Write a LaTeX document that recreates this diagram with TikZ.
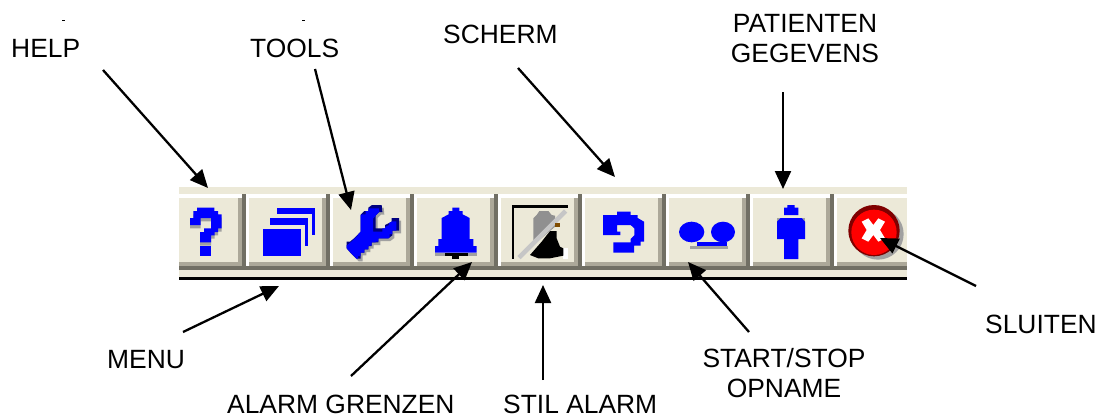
\documentclass[tikz,border=0pt]{standalone}
\usepackage{fontspec}
\setmainfont{Liberation Sans}
\usetikzlibrary{arrows.meta}
\definecolor{btnface}{RGB}{236,233,216}
\definecolor{btnshade}{RGB}{172,168,153}
\definecolor{btndark}{RGB}{113,111,100}
\definecolor{icblue}{RGB}{0,0,255}
\definecolor{icnavy}{RGB}{0,0,128}
\definecolor{icgray}{RGB}{160,160,160}
\definecolor{icred}{RGB}{255,0,0}
\definecolor{icdark}{RGB}{128,0,0}
\tikzset{
  % Set arrowhead
  >={Triangle[length=18pt,width=16pt]},
  % Labels
  lbl/.style={inner sep=0pt, font=\fontsize{26.4}{30}\selectfont},
  mlbl/.style={lbl, align=center},
  % Arrows
  ptr/.style={->, line width=2.3pt, black},
  % Icons
  blu/.style={fill=icblue},
  shd/.style={fill=icgray},
}
\begin{document}
\begin{tikzpicture}[x=1pt, y=-1pt]
  \useasboundingbox (0,0) rectangle (1098,418);

  % toolbar
  \fill[btnface] (179,187) rectangle (907,277);
  \fill[white] (179,194) rectangle (907,198);
  \fill[btnshade] (179,262) rectangle (907,266);
  \fill[btndark] (179,266) rectangle (907,270);
  \fill[black] (179,277) rectangle (907,280);
  \foreach \x in {242,326,410,494,578,662,746,830} {
    \fill[btnshade] (\x-4,198) rectangle (\x,266);
    \fill[btndark] (\x,194) rectangle (\x+4,270);
    \fill[white] (\x+4,194) rectangle (\x+7,266);
  }

  % help, menu, tools, bell
  \begin{scope}[shift={(170,170)}, scale=1/3]
    \def\helpicon{(60,144) -- (70,144) -- (70,123) -- (81,123) -- (81,113)
      -- (133,113) -- (133,123) -- (144,123) -- (144,133) -- (155,133)
      -- (155,175) -- (144,175) -- (144,186) -- (134,186) -- (134,196)
      -- (123,196) -- (123,217) -- (90,217) -- (90,186) -- (102,186)
      -- (102,175) -- (123,175) -- (123,144) -- (92,144) -- (92,165)
      -- (60,165) -- cycle}
    \fill[shd, shift={(0,10)}] \helpicon;
    \fill[blu] \helpicon;
    \fill[blu] (90,228) rectangle (123,258);

    \fill[blu] (321,113) rectangle (435,133);
    \fill[blu] (426,133) rectangle (435,195);
    \fill[blu] (300,144) rectangle (415,165);
    \fill[blu] (405,165) rectangle (415,228);
    \fill[blu] (279,177) rectangle (393,258);

    \def\toolicon{(583,123) -- (595,123) -- (595,113) -- (606,105)
      -- (635,105) -- (637,126) -- (627,126) -- (617,136) -- (617,175)
      -- (645,175) -- (645,165) -- (665,155) -- (665,144) -- (687,144)
      -- (687,182) -- (667,182) -- (667,196) -- (655,205) -- (625,205)
      -- (625,217) -- (605,217) -- (605,228) -- (595,228) -- (595,238)
      -- (583,238) -- (583,248) -- (572,248) -- (572,266) -- (560,266)
      -- (550,256) -- (540,246) -- (530,235) -- (530,215) -- (540,215)
      -- (552,205) -- (562,195) -- (572,185) -- (572,134) -- cycle}
    \fill[shd, shift={(6,8)}] \toolicon;
    \fill[icnavy] \toolicon;
    \begin{scope}
      \clip \toolicon;
      \fill[blu, shift={(-8,10)}] \toolicon;
    \end{scope}

    \fill[shd] (795,248) rectangle (920,258);
    \fill[blu] (847,113) -- (868,113) -- (868,123) -- (878,123) -- (878,133)
      -- (899,144) -- (899,207) -- (910,207) -- (910,228) -- (920,228)
      -- (920,248) -- (795,248) -- (795,228) -- (805,228) -- (805,207)
      -- (815,207) -- (815,144) -- (836,133) -- (836,123) -- (847,123) -- cycle;
    \fill[black] (825,248) rectangle (893,258);
    \fill[black] (846,258) rectangle (867,267);
  \end{scope}

  % silenced bell
  \begin{scope}[shift={(495,195)}, scale=1/3]
    \fill[black] (50,30) rectangle (218,38);
    \fill[black] (50,30) rectangle (58,192);
    \fill[white] (205,160) rectangle (218,192);
    \fill[black] (165,108) -- (185,108) -- (185,130) -- (195,155) -- (205,160)
      -- (205,182) -- (165,190) -- (130,190) -- (105,180) -- (140,140) -- cycle;
    \fill[icgray!90!black] (133,48) -- (160,48) -- (170,60) -- (180,62) -- (180,95)
      -- (115,150) -- (115,70) -- (125,60) -- cycle;
    \draw[line width=4.5pt, color=icgray!60!white] (72,188) -- (212,48);
    \fill[icdark!40!olive] (180,85) rectangle (195,95);
  \end{scope}

  % undo, tape, person, close
  \begin{scope}[shift={(540,170)}, scale=1/3]
    \def\undoicon{(189,135) -- (231,135) -- (231,125) -- (272,125) -- (272,135)
      -- (293,135) -- (293,144) -- (312,155) -- (312,215) -- (302,215)
      -- (302,227) -- (282,227) -- (282,248) -- (220,248) -- (220,217)
      -- (272,217) -- (272,207) -- (283,196) -- (283,175) -- (272,165)
      -- (231,165) -- (231,185) -- (241,185) -- (241,195) -- (189,195) -- cycle}
    \fill[blu] \undoicon;

    \fill[shd] (450,227) rectangle (565,236);
    \fill[blu] (455,186) ellipse [x radius=38, y radius=31];
    \fill[blu] (549,186) ellipse [x radius=36, y radius=31];
    \fill[blu] (470,215) rectangle (560,227);

    \fill[blu] (742,105) -- (764,105) -- (764,113) -- (775,113) -- (775,135)
      -- (732,135) -- (732,113) -- (742,113) -- cycle;
    \fill[shd] (711,144) rectangle (795,160);
    \fill[blu] (711,155) -- (722,144) -- (785,144) -- (795,155) -- (795,207)
      -- (775,207) -- (775,267) -- (732,267) -- (732,207) -- (711,207) -- cycle;

    \fill[shd] (1014,192) circle [radius=77];
    \fill[icdark] (1002,182) circle [radius=77];
    \fill[icred] (1002,187) circle [radius=68];
    \fill[white] (965,155) -- (985,145) -- (1000,165) -- (1015,145) -- (1035,155)
      -- (1020,180) -- (1035,205) -- (1015,215) -- (1000,195) -- (985,215)
      -- (965,205) -- (980,180) -- cycle;
  \end{scope}

  % stray marks
  \fill[black] (62,20) rectangle (65,21);
  \fill[black] (302,20) rectangle (305,21);

  % labels
  \node[lbl, anchor=base west] (help) at (11,57) {HELP};
  \node[lbl, anchor=base west] (tools) at (250,57) {TOOLS};
  \node[lbl, anchor=base west] (scherm) at (443,43) {SCHERM};
  \node[mlbl] (patient) at (805,39) {PATIENTEN\\GEGEVENS};
  \node[lbl, anchor=base west] (menu) at (107,368) {MENU};
  \node[lbl, anchor=base west] (grenzen) at (227,413) {ALARM GRENZEN};
  \node[lbl, anchor=base west] (stil) at (503,413) {STIL ALARM};
  \node[mlbl] (opname) at (784,373) {START/STOP\\OPNAME};
  \node[lbl, anchor=base west] (sluiten) at (985,333) {SLUITEN};

  % arrow ends
  \coordinate (helptail) at (103,70);
  \coordinate (helphead) at (208,188);
  \coordinate (toolstail) at (315,69);
  \coordinate (toolshead) at (351,210);
  \coordinate (schermtail) at (518,68);
  \coordinate (schermhead) at (615,177);
  \coordinate (patienttail) at (783,92);
  \coordinate (patienthead) at (783,189);
  \coordinate (menutail) at (183,332);
  \coordinate (menuhead) at (279,286);
  \coordinate (grenzentail) at (351,376);
  \coordinate (grenzenhead) at (472,262);
  \coordinate (stiltail) at (543,380);
  \coordinate (stilhead) at (543,285);
  \coordinate (opnametail) at (749,332);
  \coordinate (opnamehead) at (688,262);
  \coordinate (sluitentail) at (976,286);
  \coordinate (sluitenhead) at (880,238);

  \foreach \a in {help,tools,scherm,patient,menu,grenzen,stil,opname,sluiten}
    \draw[ptr] (\a tail) -- (\a head);
\end{tikzpicture}
\end{document}
